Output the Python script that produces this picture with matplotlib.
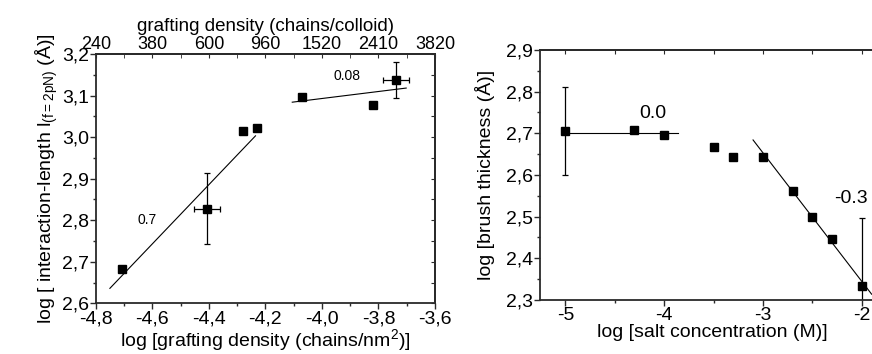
import numpy as np
import matplotlib.pyplot as plt
from matplotlib.ticker import MultipleLocator, FuncFormatter, FixedLocator

plt.rcParams['font.family'] = ['Liberation Sans', 'DejaVu Sans']
plt.rcParams['font.size'] = 14
plt.rcParams['mathtext.fontset'] = 'custom'
plt.rcParams['mathtext.rm'] = 'Liberation Sans'
plt.rcParams['axes.unicode_minus'] = False

# left panel: interaction length vs grafting density
graft_x = [-4.707, -4.405, -4.279, -4.231, -4.070, -3.820, -3.738]
graft_y = [2.683, 2.828, 3.015, 3.023, 3.096, 3.077, 3.138]
graft_xerr = [0, 0.046, 0, 0, 0, 0, 0.047]
graft_yerr = [0, 0.085, 0, 0, 0, 0, 0.043]
fit_lo_x = [-4.75, -4.235]
fit_lo_y = [2.636, 3.003]
fit_hi_x = [-4.105, -3.702]
fit_hi_y = [3.084, 3.118]
top_ticks = [-4.8, -4.6, -4.4, -4.2, -4.0, -3.8, -3.6]
top_labels = ['240', '380', '600', '960', '1520', '2410', '3820']

# right panel: brush thickness vs salt concentration
salt_x = [-5.0, -4.30, -4.0, -3.5, -3.3, -3.0, -2.7, -2.5, -2.3, -2.0]
brush_y = [2.706, 2.708, 2.696, 2.668, 2.644, 2.644, 2.562, 2.498, 2.447, 2.334]
brush_err = [0.105, 0, 0, 0, 0, 0, 0, 0, 0, 0.162]
flat_x = [-5.0, -3.86]
flat_y = [2.70, 2.70]
drop_x = [-3.10, -1.90]
drop_y = [2.684, 2.314]

spine_col = '#2a2a2a'


def comma(fmt):
    return FuncFormatter(lambda v, p: (fmt % v).replace('.', ','))


def style(ax):
    for s in ax.spines.values():
        s.set_color(spine_col)
        s.set_linewidth(1.3)
    ax.tick_params(which='major', length=4, width=1, color=spine_col, pad=1)
    ax.tick_params(which='minor', length=2.5, width=1, color=spine_col)


fig = plt.figure(figsize=(8.72, 3.54), dpi=100)

# ---- left panel
ax1 = fig.add_axes([0.1098, 0.1432, 0.3891, 0.7043])
style(ax1)
gx = np.array(graft_x)
gy = np.array(graft_y)
ex = np.array(graft_xerr)
ey = np.array(graft_yerr)
has_err = (ex > 0) | (ey > 0)
ax1.errorbar(gx[has_err], gy[has_err], xerr=ex[has_err], yerr=ey[has_err],
             fmt='none', ecolor='black', elinewidth=0.9, capsize=2.5, capthick=0.9)
ax1.plot(gx, gy, 's', color='black', ms=6)
ax1.plot(fit_lo_x, fit_lo_y, color='black', lw=0.8)
ax1.plot(fit_hi_x, fit_hi_y, color='black', lw=0.8)
ax1.text(-4.62, 2.80, '0.7', fontsize=10, ha='center', va='center')
ax1.text(-3.91, 3.147, '0.08', fontsize=10, ha='center', va='center')

ax1.set_xlim(-4.8, -3.6)
ax1.set_ylim(2.6, 3.2)
ax1.xaxis.set_major_locator(MultipleLocator(0.2))
ax1.xaxis.set_minor_locator(MultipleLocator(0.1))
ax1.yaxis.set_major_locator(MultipleLocator(0.1))
ax1.yaxis.set_minor_locator(MultipleLocator(0.05))
ax1.xaxis.set_major_formatter(comma('%.1f'))
ax1.yaxis.set_major_formatter(comma('%.1f'))
ax1.tick_params(axis='both', which='both', direction='out')
ax1.set_xlabel(r'log [grafting density (chains/nm$^{2}$)]', labelpad=0)
ax1.set_ylabel(r'log [ interaction-length l$_{\mathrm{(f{=}2pN)}}$ (Å)]', labelpad=1)

# right side: inward ticks, no labels
ax1r = ax1.secondary_yaxis('right')
ax1r.yaxis.set_major_locator(MultipleLocator(0.05))
ax1r.tick_params(direction='in', length=3, color=spine_col, labelright=False)
ax1r.spines['right'].set_color(spine_col)
ax1r.spines['right'].set_linewidth(1.3)

# top: colloid grafting density
top = ax1.secondary_xaxis('top')
top.xaxis.set_major_locator(FixedLocator(top_ticks))
top.set_xticklabels(top_labels, fontsize=13)
top.xaxis.set_minor_locator(MultipleLocator(0.1))
top.tick_params(which='both', direction='in', length=3, color=spine_col, pad=1)
top.spines['top'].set_color(spine_col)
top.spines['top'].set_linewidth(1.3)
top.set_xlabel('grafting density (chains/colloid)', labelpad=3, fontsize=13.5)

# ---- right panel
ax2 = fig.add_axes([0.6193, 0.1525, 0.395, 0.7065])
style(ax2)
sx = np.array(salt_x)
sy = np.array(brush_y)
se = np.array(brush_err)
m = se > 0
ax2.errorbar(sx[m], sy[m], yerr=se[m], fmt='none', ecolor='black',
             elinewidth=0.9, capsize=2.5, capthick=0.9)
ax2.plot(sx, sy, 's', color='black', ms=6)
ax2.plot(flat_x, flat_y, color='black', lw=0.8)
ax2.plot(drop_x, drop_y, color='black', lw=0.8)
ax2.text(-4.11, 2.748, '0.0', fontsize=14, ha='center', va='center')
ax2.text(-2.11, 2.544, '-0.3', fontsize=14, ha='center', va='center')

ax2.set_xlim(-5.256, -1.77)
ax2.set_ylim(2.3, 2.9)
ax2.xaxis.set_major_locator(MultipleLocator(1))
ax2.xaxis.set_minor_locator(MultipleLocator(0.5))
ax2.yaxis.set_major_locator(MultipleLocator(0.1))
ax2.yaxis.set_minor_locator(MultipleLocator(0.05))
ax2.xaxis.set_major_formatter(FuncFormatter(lambda v, p: '%d' % round(v)))
ax2.yaxis.set_major_formatter(comma('%.1f'))
ax2.tick_params(axis='both', which='both', direction='out')
ax2.spines['right'].set_visible(False)
top2 = ax2.secondary_xaxis('top')
top2.xaxis.set_major_locator(MultipleLocator(0.5))
top2.tick_params(direction='in', length=3, color=spine_col, labeltop=False)
top2.spines['top'].set_color(spine_col)
top2.spines['top'].set_linewidth(1.3)
ax2.set_xlabel('log [salt concentration (M)]', labelpad=0)
ax2.set_ylabel('log [brush thickness (Å)]', labelpad=8)

fig.savefig('out.png', dpi=100)
